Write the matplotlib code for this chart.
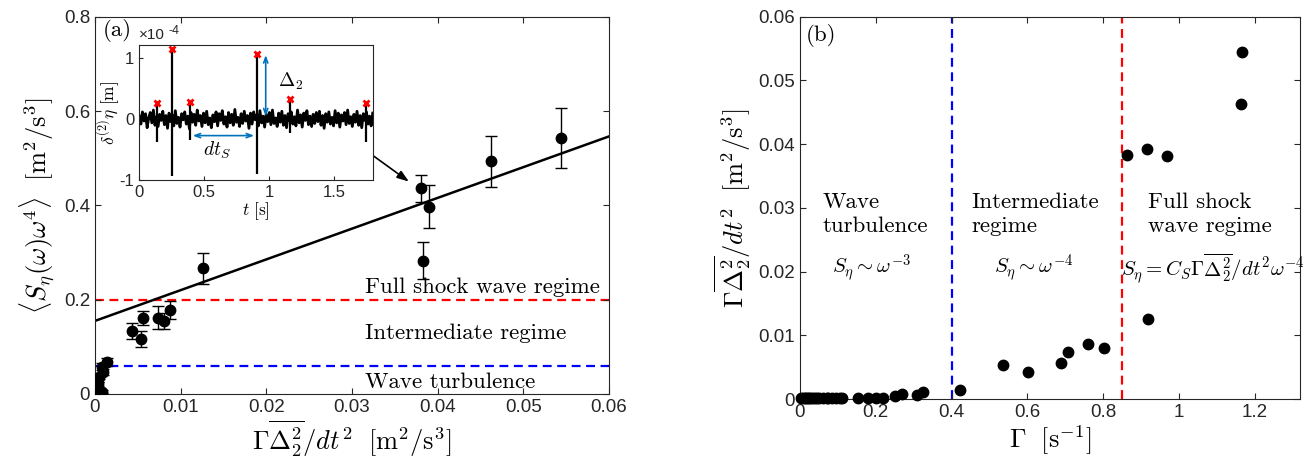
import matplotlib
matplotlib.use("Agg")
import matplotlib.pyplot as plt
import numpy as np
from matplotlib.ticker import FuncFormatter

plt.rcParams["mathtext.fontset"] = "cm"
plt.rcParams["axes.unicode_minus"] = False
plt.rcParams["font.family"] = ["Liberation Sans", "DejaVu Sans"]

# panel (a): mean compensated spectrum vs dissipation estimate
a_x = [0.0000, 0.0001, 0.0002, 0.0000, 0.0003, 0.0002, 0.0004, 0.0005, 0.0008,
       0.0009, 0.0008, 0.0014,
       0.0043, 0.0054, 0.0056, 0.0073, 0.0080, 0.0087, 0.0126,
       0.0380, 0.0390, 0.0383, 0.0462, 0.0544]
a_y = [0.002, 0.006, 0.010, 0.015, 0.021, 0.026, 0.031, 0.037, 0.005,
       0.047, 0.058, 0.068,
       0.134, 0.117, 0.161, 0.162, 0.155, 0.178, 0.267,
       0.436, 0.397, 0.283, 0.493, 0.543]
a_err = [0.003, 0.003, 0.004, 0.004, 0.005, 0.005, 0.006, 0.006, 0.003,
         0.007, 0.007, 0.008,
         0.017, 0.017, 0.014, 0.025, 0.017, 0.020, 0.033,
         0.028, 0.046, 0.040, 0.055, 0.064]
fit_intercept = 0.155
fit_slope = 6.52
level_shock = 0.2
level_wave = 0.06

# inset: second-order increment of the surface elevation (units of 1e-4 m)
noise = [0.05, -0.08, 0.12, -0.03, 0.09, -0.14, 0.02, 0.11, -0.06, 0.15, -0.10, 0.04, -0.12, 0.08, -0.02, 0.13, -0.09, 0.06, -0.15, 0.10,
         -0.04, 0.07, -0.11, 0.14, -0.07, 0.03, -0.13, 0.09, -0.01, 0.12, -0.08, 0.05, -0.16, 0.11, -0.05, 0.08, -0.10, 0.15, -0.03, 0.06,
         -0.12, 0.10, -0.06, 0.13, -0.09, 0.02, -0.14, 0.07, -0.04, 0.12, -0.11, 0.09, -0.02, 0.14, -0.08, 0.04, -0.13, 0.11, -0.06, 0.08,
         -0.10, 0.16, -0.05, 0.03, -0.12, 0.09, -0.07, 0.13, -0.03, 0.06, -0.15, 0.10, -0.08, 0.12, -0.01, 0.07, -0.11, 0.14, -0.06, 0.05,
         -0.13, 0.08, -0.04, 0.11, -0.09, 0.15, -0.07, 0.02, -0.12, 0.10, -0.05, 0.13, -0.10, 0.06, -0.14, 0.09, -0.03, 0.12, -0.08, 0.04,
         -0.11, 0.15, -0.06, 0.07, -0.13, 0.10, -0.02, 0.14, -0.09, 0.05, -0.12, 0.08, -0.07, 0.11, -0.04, 0.13, -0.10, 0.06, -0.15, 0.09,
         -0.05, 0.12, -0.08, 0.03, -0.11, 0.14, -0.06, 0.10, -0.13, 0.07, -0.03, 0.11, -0.09, 0.15, -0.07, 0.04, -0.12, 0.08, -0.05, 0.13,
         -0.10, 0.06, -0.14, 0.09, -0.02, 0.12, -0.08, 0.05, -0.11, 0.10]
noise_t_end = 1.8
spike_t = [0.134, 0.25, 0.39, 0.907, 1.16, 1.75]
spike_hi = [0.26, 1.16, 0.29, 1.08, 0.34, 0.26]
spike_lo = [-0.37, -0.94, -0.34, -0.90, -0.23, -0.37]

# panel (b): dissipation estimate vs shock rate
b_x = [0.003, 0.008, 0.012, 0.016, 0.020, 0.025, 0.030, 0.035, 0.040, 0.045,
       0.050, 0.060, 0.070, 0.075, 0.085, 0.095, 0.105, 0.112,
       0.153, 0.179, 0.200, 0.219, 0.250, 0.268, 0.310, 0.324,
       0.423, 0.536, 0.602, 0.688, 0.708, 0.761, 0.802,
       0.864, 0.917, 0.970, 0.919, 1.163, 1.168]
b_y = [0.0001, 0.0001, 0.0001, 0.0001, 0.0001, 0.0001, 0.0001, 0.0001, 0.0001, 0.0001,
       0.0001, 0.0001, 0.0001, 0.0001, 0.0001, 0.0001, 0.0001, 0.0001,
       0.0002, 0.0002, 0.0002, 0.0002, 0.0004, 0.0008, 0.0006, 0.0011,
       0.0014, 0.0054, 0.0043, 0.0056, 0.0073, 0.0087, 0.0080,
       0.0383, 0.0392, 0.0381, 0.0125, 0.0463, 0.0545]
gamma_wave = 0.4
gamma_shock = 0.85

AX_COLOR = "#262626"
LABEL_FS = 19
TEXT_FS = 16.5
MATH_FS = 15
TICK_FS = 13.5
CM = "cmr10"
fmt = FuncFormatter(lambda v, p: f"{v:g}")


def style_axes(ax, fs):
    for s in ax.spines.values():
        s.set_color(AX_COLOR)
        s.set_linewidth(0.8)
    ax.tick_params(direction="in", top=True, right=True, labelsize=fs,
                   colors=AX_COLOR, length=4, width=0.8)
    ax.xaxis.set_major_formatter(fmt)
    ax.yaxis.set_major_formatter(fmt)


fig = plt.figure(figsize=(13.05, 4.75), dpi=100)
W, H = 1305, 475
ax1 = fig.add_axes([95 / W, 1 - 394 / H, (609 - 95) / W, (394 - 16.7) / H])
ax2 = fig.add_axes([800 / W, 1 - 399 / H, (1300 - 800) / W, (399 - 16.7) / H])
axi = fig.add_axes([139.3 / W, 1 - 180 / H, 233.4 / W, 135 / H])

# ---- panel (a)
style_axes(ax1, TICK_FS)
xx = np.array([0, 0.06])
ax1.plot(xx, fit_intercept + fit_slope * xx, color="k", lw=1.8, zorder=2)
ax1.axhline(level_shock, color="#FF0000", ls=(0, (4, 2.5)), lw=1.6, zorder=1)
ax1.axhline(level_wave, color="#0000FF", ls=(0, (4, 2.5)), lw=1.6, zorder=1)
ax1.errorbar(a_x, a_y, yerr=a_err, fmt="o", color="k", ms=7.5, capsize=4.5,
             elinewidth=1.0, capthick=1.0, zorder=3)
ax1.set_xlim(0, 0.06)
ax1.set_ylim(0, 0.8)
ax1.set_xticks(np.arange(0, 0.061, 0.01))
ax1.set_yticks(np.arange(0, 0.81, 0.2))
ax1.set_xlabel(r"$\Gamma\overline{\Delta_2^2}/dt^2\ \ [\mathrm{m}^2/\mathrm{s}^3]$", fontsize=LABEL_FS, labelpad=2)
ax1.set_ylabel(r"$\langle S_\eta(\omega)\omega^4\rangle\ \ [\mathrm{m}^2/\mathrm{s}^3]$", fontsize=LABEL_FS, labelpad=4)
ax1.text(0.0315, 0.227, "Full shock wave regime", family=CM, fontsize=TEXT_FS, va="center")
ax1.text(0.0315, 0.129, "Intermediate regime", family=CM, fontsize=TEXT_FS, va="center")
ax1.text(0.0315, 0.024, "Wave turbulence", family=CM, fontsize=TEXT_FS, va="center")
ax1.text(0.016, 0.963, "(a)", family=CM, fontsize=TEXT_FS, transform=ax1.transAxes, va="center")
ax1.annotate("", xy=(0.0369, 0.447), xytext=(0.0312, 0.522),
             arrowprops=dict(arrowstyle="-|>,head_length=0.7,head_width=0.25", color="k", lw=1.2))

# ---- inset
style_axes(axi, 12)
axi.tick_params(top=False, right=False, length=3)
t_noise = np.linspace(0, noise_t_end, len(noise))
axi.plot(t_noise, noise, color="k", lw=2.0)
axi.vlines(spike_t, spike_lo, spike_hi, color="k", lw=1.6)
axi.plot(spike_t, spike_hi, "x", color="#FF0000", ms=5, mew=2)
blue = "#0072BD"
axi.annotate("", xy=(0.975, spike_hi[3] + 0.02), xytext=(0.975, 0.0),
             arrowprops=dict(arrowstyle="<->,head_length=0.4,head_width=0.15", color=blue, lw=1.2))
axi.annotate("", xy=(spike_t[2], -0.27), xytext=(spike_t[3], -0.27),
             arrowprops=dict(arrowstyle="<->,head_length=0.4,head_width=0.15", color=blue, lw=1.2))
axi.text(1.07, 0.62, r"$\Delta_2$", fontsize=14, va="center")
axi.text(0.6, -0.52, r"$dt_S$", fontsize=14, va="center", ha="center")
axi.set_xlim(0, 1.8)
axi.set_ylim(-1, 1.22)
axi.set_xticks([0, 0.5, 1, 1.5])
axi.set_yticks([-1, 0, 1])
axi.set_xlabel(r"$t\ [\mathrm{s}]$", fontsize=12.5, labelpad=0)
axi.set_ylabel(r"$\delta^{(2)}\eta\ [\mathrm{m}]$", fontsize=12.5, labelpad=-2)
axi.annotate("×10", xy=(0, 1), xycoords="axes fraction", xytext=(0, 2),
             textcoords="offset points", fontsize=11, color=AX_COLOR, va="bottom")
axi.annotate("-4", xy=(0, 1), xycoords="axes fraction", xytext=(21, 6),
             textcoords="offset points", fontsize=9, color=AX_COLOR, va="bottom")

# ---- panel (b)
style_axes(ax2, TICK_FS)
ax2.axvline(gamma_wave, color="#0000FF", ls=(0, (4, 2.5)), lw=1.6, zorder=1)
ax2.axvline(gamma_shock, color="#FF0000", ls=(0, (4, 2.5)), lw=1.6, zorder=1)
ax2.plot(b_x, b_y, "o", color="k", ms=7.5, zorder=3, clip_on=False)
ax2.set_xlim(0, 1.32)
ax2.set_ylim(0, 0.06)
ax2.set_xticks(np.arange(0, 1.21, 0.2))
ax2.set_yticks(np.arange(0, 0.061, 0.01))
ax2.set_xlabel(r"$\Gamma\ \ [\mathrm{s}^{-1}]$", fontsize=LABEL_FS, labelpad=2)
ax2.set_ylabel(r"$\Gamma\overline{\Delta_2^2}/dt^2\ \ [\mathrm{m}^2/\mathrm{s}^3]$", fontsize=LABEL_FS, labelpad=4)
ax2.text(0.06, 0.0290, "Wave\nturbulence", family=CM, fontsize=TEXT_FS, va="center", linespacing=1.3)
ax2.text(0.452, 0.0290, "Intermediate\nregime", family=CM, fontsize=TEXT_FS, va="center", linespacing=1.3)
ax2.text(0.92, 0.0290, "Full shock\nwave regime", family=CM, fontsize=TEXT_FS, va="center", linespacing=1.3)
ax2.text(0.19, 0.0205, r"$S_\eta\sim\omega^{-3}$", fontsize=MATH_FS, ha="center", va="center")
ax2.text(0.616, 0.0205, r"$S_\eta\sim\omega^{-4}$", fontsize=MATH_FS, ha="center", va="center")
ax2.text(0.848, 0.0205, r"$S_\eta=C_S\Gamma\overline{\Delta_2^2}/dt^2\omega^{-4}$", fontsize=MATH_FS, ha="left", va="center")
ax2.text(0.012, 0.95, "(b)", family=CM, fontsize=TEXT_FS, transform=ax2.transAxes, va="center")

fig.savefig("out.png", dpi=100)
